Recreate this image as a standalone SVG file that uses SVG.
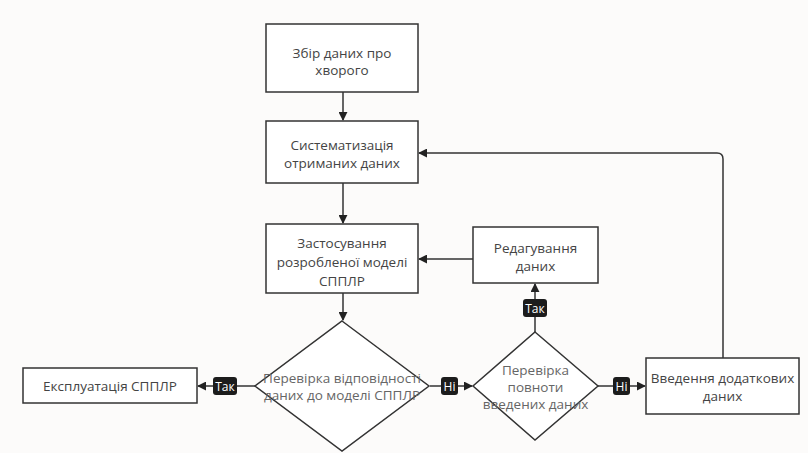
<svg xmlns="http://www.w3.org/2000/svg" width="808" height="453" viewBox="0 0 808 453">
<defs>
<marker id="ah" viewBox="0 0 10 10" refX="9" refY="5" markerWidth="9" markerHeight="9" markerUnits="userSpaceOnUse" orient="auto">
<path d="M0,0 L10,5 L0,10 z" fill="#222"/>
</marker>
</defs>
<style>
.box{fill:#fff;stroke:#333;stroke-width:1.5}
.t{font-family:"Open Sans","Noto Sans","DejaVu Sans",sans-serif;font-size:13.5px;font-weight:500;fill:#444;text-anchor:middle;dominant-baseline:central}
.td{fill:#666}
.e{fill:none;stroke:#333;stroke-width:1.5}
.lb{fill:#1c1c1c}
.lt{font-family:"Open Sans","Noto Sans","DejaVu Sans",sans-serif;font-size:12px;font-weight:500;fill:#fff;text-anchor:middle;dominant-baseline:central}
</style>
<rect width="808" height="453" fill="#fcfbfa"/>
<g id="connectors">
<path class="e" d="M343,92 V120" marker-end="url(#ah)"/>
<path class="e" d="M343,183 V223" marker-end="url(#ah)"/>
<path class="e" d="M343,293 V320" marker-end="url(#ah)"/>
<path class="e" d="M473,259 H419" marker-end="url(#ah)"/>
<path class="e" d="M723,358 V159 Q723,153 717,153 H419" marker-end="url(#ah)"/>
<path class="e" d="M255,386 H198" marker-end="url(#ah)"/>
<path class="e" d="M430,386 H472" marker-end="url(#ah)"/>
<path class="e" d="M535,332 V284" marker-end="url(#ah)"/>
<path class="e" d="M598,386 H645" marker-end="url(#ah)"/>
<rect class="lb" x="213" y="377" width="24" height="18" rx="3"/>
<text class="lt" x="225" y="386">Так</text>
<rect class="lb" x="441" y="377" width="17" height="18" rx="3"/>
<text class="lt" x="449.5" y="386">Ні</text>
<rect class="lb" x="523" y="299" width="24" height="18" rx="3"/>
<text class="lt" x="535" y="308">Так</text>
<rect class="lb" x="613" y="377" width="17" height="18" rx="3"/>
<text class="lt" x="621.5" y="386">Ні</text>
</g>
<g id="n1">
<rect class="box" x="266" y="24" width="152" height="68"/>
<text class="t" x="342" y="53">Збір даних про</text>
<text class="t" x="342" y="70">хворого</text>
</g>
<g id="n2">
<rect class="box" x="266" y="121" width="152" height="62"/>
<text class="t" x="342" y="145">Систематизація</text>
<text class="t" x="342" y="163">отриманих даних</text>
</g>
<g id="n3">
<rect class="box" x="266" y="224" width="152" height="69"/>
<text class="t" x="342" y="243">Застосування</text>
<text class="t" x="342" y="262">розробленої моделі</text>
<text class="t" x="342" y="281">СППЛР</text>
</g>
<g id="n4">
<rect class="box" x="473" y="227" width="125" height="56"/>
<text class="t" x="535.5" y="248">Редагування</text>
<text class="t" x="535.5" y="266">даних</text>
</g>
<g id="d1">
<path class="box" d="M342,321 L429,386 L342,451 L255,386 z"/>
<text class="t td" x="342" y="378">Перевірка відповідності</text>
<text class="t td" x="342" y="395">даних до моделі СППЛР</text>
</g>
<g id="d2">
<path class="box" d="M535,332 L598,386 L535,440 L473,386 z"/>
<text class="t td" x="535.5" y="370">Перевірка</text>
<text class="t td" x="535.5" y="387">повноти</text>
<text class="t td" x="535.5" y="404">введених даних</text>
</g>
<g id="n5">
<rect class="box" x="23" y="368" width="174" height="35"/>
<text class="t" x="110" y="386">Експлуатація СППЛР</text>
</g>
<g id="n6">
<rect class="box" x="646" y="358" width="153" height="56"/>
<text class="t" x="722.5" y="378">Введення додаткових</text>
<text class="t" x="722.5" y="396">даних</text>
</g>
</svg>
